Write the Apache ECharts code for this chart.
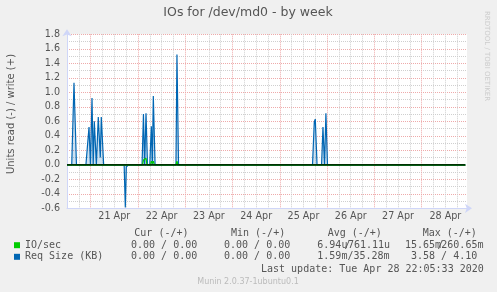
<!DOCTYPE html>
<html><head><meta charset="utf-8">
<script src="https://cdn.jsdelivr.net/npm/echarts@6/dist/echarts.min.js"></script>
<style>html,body{margin:0;padding:0;background:#F0F0F0;}#c{width:497px;height:292px;}</style>
</head><body><div id="c"></div>
<script>
// x values are hours since 21 Apr 00:00
const dayLabels = ['21 Apr','22 Apr','23 Apr','24 Apr','25 Apr','26 Apr','27 Apr','28 Apr'];
const yTicks = [-0.6,-0.4,-0.2,0,0.2,0.4,0.6,0.8,1.0,1.2,1.4,1.6,1.8];

const reqWriteT = [-12,-9.6,-8.45,-7.2,-2.4,-0.83,-0.1,0.69,1.3,1.86,2.9,3.88,4.75,4.9,5.4,6.6,
  26.1,26.8,27.4,28.1,28.85,30.0,30.8,31.3,31.8,32.7,43.3,43.8,44.6,
  112.6,113.5,114.0,114.9,117.2,117.9,118.7,119.4,120.2,190.1];
const reqWriteV = [0,0,1.13,0,0,0.52,0,0.92,0,0.60,0,0.66,0.66,0.10,0.66,0,
  0,0.70,0,0.71,0,0,0.53,0,0.95,0,0,1.52,0,
  0,0.59,0.63,0,0,0.52,0,0.71,0,0];

const reqReadT = [-12,17.0,17.6,18.1,18.6,19.1,190.1];
const reqReadV = [0,0,-0.59,-0.03,-0.03,0,0];

const ioWriteT = [-12,26.3,26.8,27.4,28.1,28.6,30.4,30.8,31.3,31.8,32.3,43.3,43.8,44.3,113.0,113.8,114.5,119.0,119.4,119.8,190.1];
const ioWriteV = [0,0,0.066,0.09,0.09,0,0,0.05,0.02,0.05,0,0,0.05,0,0,0.012,0,0,0.012,0,0];

const ioReadT = [-12,190.1];
const ioReadV = [0,0];

const zeroRuleT = [-12,190.1];
const zeroRuleV = [0,0];

const legendNames = ['IO/sec','Req Size (KB)'];
const legendColors = ['#00CC00','#0066B3'];
const curVals = ['0.00 / 0.00','0.00 / 0.00'];
const minVals = ['0.00 / 0.00','0.00 / 0.00'];
const avgVals = [['6.94u','761.11u'],['1.59m','35.28m']];
const maxVals = [['15.65m','260.65m'],['3.58','4.10']];

const zip = (t,v) => t.map((x,i)=>[x,v[i]]);
const chart = echarts.init(document.getElementById('c'), null, {renderer:'canvas'});
const GREY = '#cfcfcf', RED = '#eeaaaa';
const mono = 'DejaVu Sans Mono', sans = 'DejaVu Sans';
const TXT = '#555555';

function txt(x,y,s,opt){ return Object.assign({type:'text', x:x, y:y, style:Object.assign({text:s, font:'10px "'+mono+'"', fill:TXT, textVerticalAlign:'middle'}, opt||{})}); }

const graphics = [
  {type:'text', x:248, y:13, style:{text:'IOs for /dev/md0 - by week', font:'12.5px "'+sans+'"', fill:'#555', textAlign:'center', textVerticalAlign:'middle'}},
  {type:'text', x:11, y:114, rotation:Math.PI/2, style:{text:'Units read (-) / write (+)', font:'10px "'+sans+'"', fill:'#555', textAlign:'center', textVerticalAlign:'middle'}},
  {type:'text', x:487, y:56, rotation:-Math.PI/2, style:{text:'RRDTOOL / TOBI OETIKER', font:'7px "'+sans+'"', fill:'#cccccc', textAlign:'center', textVerticalAlign:'middle'}},
  {type:'text', x:248, y:282, style:{text:'Munin 2.0.37-1ubuntu0.1', font:'8px "'+sans+'"', fill:'#bbbbbb', textAlign:'center', textVerticalAlign:'middle'}},
  txt(134.3,233.5,'Cur (-/+)'), txt(231,233.5,'Min (-/+)'), txt(327.7,233.5,'Avg (-/+)'), txt(422.7,233.5,'Max (-/+)'),
  txt(261,269.5,'Last update: Tue Apr 28 22:05:33 2020')
];
const rowY = [245.2, 256.8];
legendNames.forEach((n,i)=>{
  const y = rowY[i];
  graphics.push({type:'rect', shape:{x:14, y:y-3, width:6, height:6}, style:{fill:legendColors[i]}});
  graphics.push(txt(25,y,n));
  graphics.push(txt(131,y,curVals[i]));
  graphics.push(txt(224,y,minVals[i]));
  if (i===0) {
    graphics.push(txt(317.3,y,avgVals[i][0]));
    graphics.push(txt(344.5,y,'/'));
    graphics.push(txt(348,y,avgVals[i][1]));
    graphics.push(txt(405,y,maxVals[i][0]));
    graphics.push(txt(437.5,y,'/'));
    graphics.push(txt(441.3,y,maxVals[i][1]));
  } else {
    graphics.push(txt(317.3,y,avgVals[i][0]+'/'+avgVals[i][1]));
    graphics.push(txt(411,y,maxVals[i][0]+' / '+maxVals[i][1]));
  }
});

const lineSeries = (data,color,area,z,w) => ({
  type:'line', data:data, xAxisIndex:0, yAxisIndex:0, symbol:'none', silent:true, animation:false,
  lineStyle:{color:color, width:w||1.2}, areaStyle: area ? {color:area} : undefined, z:z||3
});

chart.setOption({
  backgroundColor:'#F0F0F0',
  animation:false,
  grid:{left:67, right:30, top:34.3, bottom:83.7, show:true, backgroundColor:'#FFFFFF', borderWidth:0},
  xAxis:[
    {type:'value', min:-12, max:191, interval:6,
     axisLine:{show:true, onZero:false, lineStyle:{color:'#CFD6F8', width:1}, symbol:['none','arrow'], symbolSize:[7,7], symbolOffset:[0,5]},
     axisTick:{show:false}, axisLabel:{show:false},
     splitLine:{show:true, showMaxLine:false, lineStyle:{color:[GREY,GREY,RED,GREY], type:'dotted', width:1}}},
    {type:'value', min:-12, max:191, interval:24, position:'bottom',
     axisLine:{show:false}, axisTick:{show:false}, splitLine:{show:false},
     axisLabel:{show:true, margin:3, color:'#555', fontFamily:sans, fontSize:9.6,
       formatter:(v)=>{ const k=(v-12)/24; return (k>=0 && Number.isInteger(k) && k<dayLabels.length) ? dayLabels[k] : ''; }}}
  ],
  yAxis:{type:'value', min:yTicks[0], max:yTicks[yTicks.length-1], interval:0.2,
    axisLine:{show:true, onZero:false, lineStyle:{color:'#CFD6F8', width:1}, symbol:['none','arrow'], symbolSize:[7,7], symbolOffset:[0,5]},
    axisTick:{show:false},
    axisLabel:{margin:7, color:'#555', fontFamily:sans, fontSize:9.6, formatter:(v)=>(Math.abs(v)<1e-9?0:v).toFixed(1)},
    splitLine:{show:true, lineStyle:{color:RED, type:'dotted', width:1}},
    minorTick:{show:false, splitNumber:2},
    minorSplitLine:{show:true, lineStyle:{color:GREY, type:'dotted', width:1}}
  },
  graphic:graphics,
  series:[
    lineSeries(zip(reqWriteT,reqWriteV),'#0066B3','rgba(0,102,179,0.28)'),
    lineSeries(zip(reqReadT,reqReadV),'#0066B3','rgba(0,102,179,0.28)'),
    lineSeries(zip(ioWriteT,ioWriteV),'#00CC00',null),
    lineSeries(zip(ioReadT,ioReadV),'#00CC00',null),
    lineSeries(zip(zeroRuleT,zeroRuleV),'#000000',null,10,1.2)
  ]
});
</script></body></html>
